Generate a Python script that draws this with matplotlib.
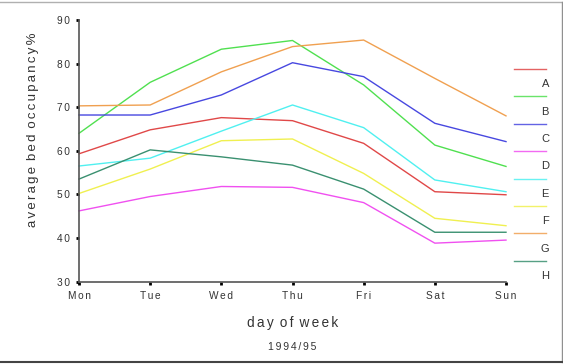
import matplotlib
matplotlib.use("Agg")
import matplotlib.pyplot as plt
from matplotlib.lines import Line2D

plt.rcParams['font.family'] = ['Liberation Sans', 'DejaVu Sans']

days = ["Mon", "Tue", "Wed", "Thu", "Fri", "Sat", "Sun"]
series_names = ["A", "B", "C", "D", "E", "F", "G", "H"]
A = [59.3, 64.8, 67.6, 66.9, 61.7, 50.6, 49.9]
B = [64.0, 75.7, 83.3, 85.3, 75.1, 61.3, 56.4]
C = [68.2, 68.2, 72.8, 80.2, 77.0, 66.3, 62.1]
D = [46.2, 49.5, 51.8, 51.6, 48.1, 38.8, 39.5]
E = [56.5, 58.3, 64.5, 70.5, 65.3, 53.3, 50.6]
F = [50.2, 55.8, 62.3, 62.7, 54.8, 44.5, 42.8]
G = [70.3, 70.5, 78.1, 83.9, 85.4, 76.6, 68.0]
H = [53.5, 60.2, 58.6, 56.7, 51.2, 41.3, 41.3]
series = [A, B, C, D, E, F, G, H]
colors = ["#e04848", "#50e050", "#4848e0", "#f050f0", "#50f0f0", "#f0f050", "#f0a050", "#3a9070"]
yticks = [30, 40, 50, 60, 70, 80, 90]
xlabel = "day of week"
ylabel = "average bed occupancy%"
subtitle = "1994/95"

LS = "\u2006"
def spaced(s):
    return (" " + LS).join(LS.join(list(w)) for w in s.split(" "))

W, H_ = 563, 364
fig = plt.figure(figsize=(W / 100, H_ / 100), dpi=100)
ax = fig.add_axes([79 / W, 1 - 281.5 / H_, (506 - 79) / W, (281.5 - 20) / H_])

x = list(range(len(days)))
for vals, c in zip(series, colors):
    ax.plot(x, vals, color=c, lw=1.0, clip_on=False)

ax.set_xlim(0, len(days) - 1)
ax.set_ylim(30, 90)
ax.set_xticks(x)
ax.set_xticklabels([spaced(d) for d in days], fontsize=7.3, color="#333333")
ax.set_yticks(yticks)
ax.set_yticklabels([spaced(str(v)) for v in yticks], fontsize=7.3, color="#333333")
for s in ["top", "right"]:
    ax.spines[s].set_visible(False)
for s in ["left", "bottom"]:
    ax.spines[s].set_color("#555555")
    ax.spines[s].set_linewidth(1.2)
ax.tick_params(axis="both", length=2.5, width=2.0, color="black", pad=4)

fig.text(33 / W, 1 - 130 / H_, spaced(ylabel),
         rotation=90, ha="center", va="center", fontsize=9.5, color="#333333")
fig.text(292.5 / W, 1 - 322.5 / H_, spaced(xlabel),
         ha="center", va="center", fontsize=9.8, color="#333333")
fig.text(292.5 / W, 1 - 347 / H_, spaced(subtitle), ha="center", va="center", fontsize=7.5, color="#333333")

# legend: line above, label below (right aligned)
y0 = 69.0
step = 27.4
for i, (name, c) in enumerate(zip(series_names, colors)):
    yy = y0 + i * step
    fig.add_artist(Line2D([514 / W, 546 / W], [1 - yy / H_, 1 - yy / H_], color=c, lw=1.0, alpha=0.85))
    fig.text(549 / W, 1 - (yy + 15.3) / H_, name, ha="right", va="center", fontsize=8, color="#333333")

# frame
fig.add_artist(Line2D([0, 561.5 / W], [1 - 2 / H_, 1 - 2 / H_], color="#b0b0b0", lw=1.0))
fig.add_artist(Line2D([561.5 / W, 561.5 / W], [1 - 2 / H_, 1 - 362 / H_], color="#909090", lw=1.0))
fig.add_artist(Line2D([0, 562 / W], [1 - 362 / H_, 1 - 362 / H_], color="#444444", lw=1.5))

fig.savefig("out.png", dpi=100)
